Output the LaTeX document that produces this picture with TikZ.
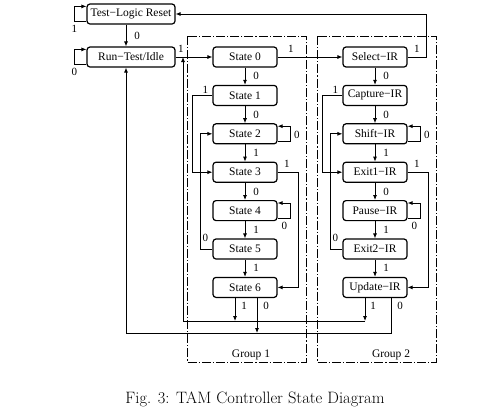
\documentclass[tikz,border=0pt]{standalone}
\usepackage{fontspec}
\newfontfamily\dgmfont{Liberation Serif}
\usetikzlibrary{arrows.meta,positioning}
\begin{document}
\begin{tikzpicture}[x=1pt, y=-1pt, >={Latex[length=5pt,width=4pt]}, line width=0.8pt,
    font={\dgmfont\fontsize{11.5}{12}\selectfont},
    st/.style={draw, line width=1.2pt, rounded corners=3pt, minimum width=64pt, minimum height=20pt, inner sep=0pt},
    lbl/.style={inner sep=0pt, font={\dgmfont\fontsize{11}{11}\selectfont}},
    grp/.style={dash pattern=on 9pt off 2pt on 1.2pt off 2pt}]
  \useasboundingbox (0,0) rectangle (481,416);
  \draw[grp] (187,36) rectangle (306,362);
  \draw[grp] (317,36) rectangle (436,362);
  \node (g1) at (251,355) {Group 1};
  \node (g2) at (391,355) {Group 2};
  \node[st, minimum width=88pt] (tlr) at (131,14) {Test−Logic Reset};
  \node[st, minimum width=88pt] (rti) at (131,57) {Run−Test/Idle};
  \foreach \i in {0,...,6}
    \node[st] (s\i) at (245,57+38.4*\i) {State \i};
  \foreach \nm [count=\i from 0] in {Select−IR,Capture−IR,Shift−IR,Exit1−IR,Pause−IR,Exit2−IR,Update−IR}
    \node[st] (ir\i) at (375,57+38.4*\i) {\nm};
  \draw[->] ([xshift=-5pt]tlr.south) -- node[lbl, right=8pt]{0} ([xshift=-5pt]rti.north);
  \draw[->] ([yshift=3pt]tlr.south west) -- ++(-12,0) node[lbl, below=3pt]{1} |- ([yshift=-3pt]tlr.north west);
  \draw[->] ([yshift=3pt]rti.south west) -- ++(-12,0) node[lbl, below=3pt]{0} |- ([yshift=-3pt]rti.north west);
  \draw[->] (rti.east) node[lbl, above right=4pt and 2pt]{1} -- (s0.west);
  \draw[->] (s0.east) node[lbl, above right=4pt and 10pt]{1} -- (ir0.west);
  \draw[->] (ir0.east) node[lbl, above right=4pt and 6pt]{1} -- ++(19,0) |- (tlr.east);
  \foreach \a/\b/\v in {0/1/0,1/2/0,2/3/1,3/4/0,4/5/1,5/6/1} {
    \draw[->] (s\a) -- node[lbl, right=8pt]{\v} (s\b);
    \draw[->] (ir\a) -- node[lbl, right=8pt]{\v} (ir\b);
  }
  \foreach \g in {s,ir} {
    \draw[->] ([yshift=3pt]\g2.south east) -- ++(13,0) node[lbl, above right=2pt and 3pt]{0} |- ([yshift=-3pt]\g2.north east);
    \draw[->] ([yshift=3pt]\g4.south east) -- ++(13,0) node[lbl, below left=4pt and 3pt]{0} |- ([yshift=-3pt]\g4.north east);
    \draw[->] (\g1.west) node[lbl, above left=2pt and 4pt]{1} -- ++(-20,0) |- (\g3.west);
    \draw[->] (\g5.west) node[lbl, above left=7pt and 4pt]{0} -- ++(-12,0) |- (\g2.west);
    \draw[->] (\g3.east) node[lbl, above right=4pt and 6pt]{1} -- ++(21,0) |- (\g6.east);
  }
  \coordinate (bus1) at (183,321);
  \coordinate (bus0) at (126,333);
  \draw[->] ([xshift=-10pt]s6.south) node[lbl, below right=4pt and 6pt]{1} -- ([xshift=-10pt]s6.south |- bus1);
  \draw[->] ([xshift=12pt]s6.south) node[lbl, below right=4pt and 6pt]{0} -- ([xshift=12pt]s6.south |- bus0);
  \draw[->] ([xshift=-10pt]ir6.south) node[lbl, below right=4pt and 5pt]{1} -- ([xshift=-10pt]ir6.south |- bus1);
  \draw[->] ([xshift=16pt]ir6.south) node[lbl, below right=4pt and 6pt]{0} |- (bus0) -- ([xshift=-5pt]rti.south);
  \draw[->] ([xshift=-10pt]ir6.south |- bus1) -- (bus1) -- (bus1 |- rti.east);
  \node[font={\rmfamily\fontsize{16.5}{18}\selectfont}] (cap) at (255,399) {Fig. 3: TAM Controller State Diagram};
\end{tikzpicture}
\end{document}
